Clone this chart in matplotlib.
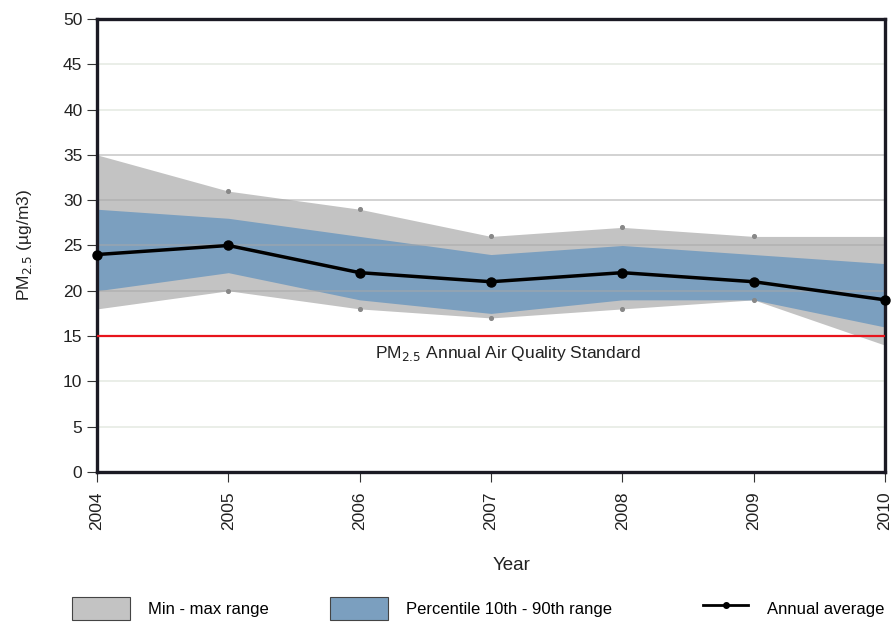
import matplotlib.pyplot as plt
from matplotlib.patches import Patch
from matplotlib.lines import Line2D

plt.rcParams["font.family"] = ["Liberation Sans", "DejaVu Sans"]

years = [2004, 2005, 2006, 2007, 2008, 2009, 2010]
pm_min = [18, 20, 18, 17, 18, 19, 14]
pm_max = [35, 31, 29, 26, 27, 26, 26]
pm_p10 = [20, 22, 19, 17.5, 19, 19, 16]
pm_p90 = [29, 28, 26, 24, 25, 24, 23]
pm_mean = [24, 25, 22, 21, 22, 21, 19]
standard = 15

GREY = "#c3c3c3"
BLUE = "#7b9fbf"
DARK = "#1b1a24"
FS = 12.5

fig = plt.figure(figsize=(8.96, 6.24), dpi=100)
ax = fig.add_axes([0.1083, 0.2436, 0.8794, 0.726])

ax.fill_between(years, pm_min, pm_max, color=GREY, lw=0, zorder=1)
ax.fill_between(years, pm_p10, pm_p90, color=BLUE, lw=0, zorder=2)
ax.scatter(years[1:-1], pm_min[1:-1], s=7, color="#888888", zorder=3)
ax.scatter(years[1:-1], pm_max[1:-1], s=7, color="#888888", zorder=3)

# horizontal grid drawn over the bands
for y in range(5, 50, 5):
    ax.axhline(y, color="#a8a8a8" if 15 < y < 40 else "#d6dfd2", lw=1.2, alpha=0.6, zorder=2.5)

ax.plot(years, pm_mean, color="black", lw=2.5, marker="o", ms=6.5, zorder=4, clip_on=False)
ax.axhline(standard, color="#e8141c", lw=1.6, zorder=5)
ax.text(2007.13, 13.1, "PM$_{2.5}$ Annual Air Quality Standard", ha="center", va="center",
        fontsize=FS, color="#222222")

ax.set_xlim(2004, 2010)
ax.set_ylim(0, 50)
ax.set_yticks(range(0, 51, 5))
ax.set_xticks(years)
ax.set_xticklabels([str(y) for y in years], rotation=90)
ax.tick_params(labelsize=FS, length=7, color="#333333", labelcolor="#222222")
ax.tick_params(axis="x", pad=7)

for side in ax.spines:
    ax.spines[side].set_color(DARK)
    ax.spines[side].set_linewidth(2.4)

fig.text(0.027, 0.607, "PM$_{2.5}$ (µg/m3)", rotation=90, ha="center", va="center",
         fontsize=FS, color="#222222")
fig.text(0.571, 0.093, "Year", ha="center", va="center", fontsize=FS + 1, color="#222222")

# legend entries sit at uneven spacing, so each gets its own legend
entries = [
    (Patch(facecolor=GREY, edgecolor="#444444", lw=0.8), "Min - max range", 0.080, 3.5),
    (Patch(facecolor=BLUE, edgecolor="#444444", lw=0.8), "Percentile 10th - 90th range", 0.368, 3.5),
    (Line2D([0], [0], color="black", lw=2, marker="o", ms=4, markevery=[1]),
     "Annual average", 0.785, 2.7),
]
for handle, label, x0, hlen in entries:
    fig.legend([handle], [label], loc="lower left", bbox_to_anchor=(x0, 0.007),
               frameon=False, fontsize=12, handlelength=hlen, handleheight=1.7,
               handletextpad=1.1, borderpad=0, borderaxespad=0)

fig.savefig("out.png", dpi=100)
